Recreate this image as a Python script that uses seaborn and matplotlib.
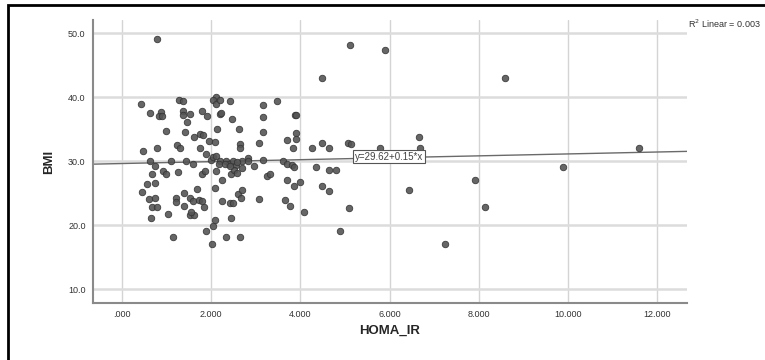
import numpy as np
import pandas as pd
import matplotlib
matplotlib.use("Agg")
import matplotlib.pyplot as plt
import seaborn as sns
from matplotlib.patches import Rectangle

# HOMA_IR / BMI 数据
homa_ir = [0.79, 5.11, 5.90, 4.48, 8.60, 0.43, 1.27, 1.37, 2.10, 2.05, 2.11, 2.20, 2.43, 3.48, 3.17,
           0.62, 0.88, 0.83, 0.89, 1.37, 1.37, 1.53, 1.79, 1.91, 2.20, 2.23, 1.45, 2.47, 3.16, 3.87,
           3.91, 0.98, 1.41, 2.13, 2.63, 3.17, 3.90, 1.61, 1.74, 1.81, 3.69, 3.90, 6.65, 0.46, 0.79,
           1.24, 1.29, 1.76, 1.95, 2.09, 1.89, 2.64, 2.64, 3.08, 3.84, 4.27, 4.48, 4.64, 5.07, 5.13,
           5.79, 6.69, 11.60, 0.63, 1.09, 1.43, 1.60, 1.99, 2.05, 2.11, 2.19, 2.33, 2.41, 2.49, 2.56,
           2.70, 2.82, 2.82, 2.95, 3.17, 3.61, 3.69, 3.81, 3.85, 4.35, 9.90, 0.74, 0.68, 0.92, 0.99,
           1.26, 1.79, 1.87, 2.10, 2.45, 2.52, 2.59, 2.70, 3.26, 3.31, 4.64, 4.81, 2.24, 0.73, 0.56,
           0.44, 1.68, 2.09, 2.61, 2.68, 3.69, 3.85, 3.99, 4.48, 4.64, 6.43, 7.91, 0.61, 0.73, 1.20,
           1.20, 1.40, 1.53, 1.59, 1.73, 1.79, 1.85, 1.38, 0.67, 0.79, 2.24, 2.43, 2.49, 2.66, 3.07,
           3.65, 3.77, 4.09, 5.09, 8.13, 0.64, 1.04, 1.53, 1.62, 1.55, 2.09, 2.45, 2.03, 1.89, 4.89,
           1.15, 2.33, 2.64, 2.02, 7.25, 2.17, 2.30, 2.43, 2.58]
bmi = [49.1, 48.2, 47.3, 43.0, 43.0, 39.0, 39.6, 39.4, 40.0, 39.5, 39.0, 39.6, 39.4, 39.4, 38.75,
       37.55, 37.6, 37.0, 37.1, 37.9, 37.2, 37.3, 37.8, 37.1, 37.3, 37.5, 36.1, 36.6, 36.9, 37.2,
       37.2, 34.7, 34.6, 35.0, 35.0, 34.6, 34.4, 33.7, 34.2, 34.1, 33.3, 33.4, 33.75, 31.6, 32.0,
       32.5, 32.1, 32.0, 33.1, 33.0, 31.1, 32.7, 32.1, 32.9, 32.0, 32.0, 32.8, 32.0, 32.8, 32.6,
       32.0, 32.0, 32.0, 30.05, 30.0, 30.0, 29.6, 30.2, 30.6, 30.8, 30.05, 30.0, 29.6, 29.95, 29.4,
       30.0, 30.5, 29.95, 29.3, 30.2, 30.05, 29.5, 29.4, 29.1, 29.0, 29.1, 29.2, 28.0, 28.4, 28.0,
       28.3, 28.0, 28.4, 28.4, 28.0, 28.65, 28.2, 28.85, 27.6, 28.0, 28.6, 28.65, 27.1, 26.6, 26.35,
       25.1, 25.7, 25.8, 24.9, 25.5, 27.0, 26.15, 26.7, 26.15, 25.3, 25.5, 27.0, 24.1, 24.3, 24.2,
       23.6, 25.05, 24.2, 23.75, 23.85, 23.7, 22.9, 23.0, 22.9, 22.9, 23.7, 23.4, 23.5, 24.2, 24.0,
       23.9, 23.0, 22.1, 22.6, 22.8, 21.05, 21.7, 21.6, 21.6, 22.0, 20.8, 21.05, 19.85, 19.1, 19.1,
       18.1, 18.1, 18.1, 17.1, 17.0, 29.5, 29.6, 29.2, 29.8]

# 回归方程 y = 29.62 + 0.15*x
intercept = 29.62
slope = 0.15
r2_text = "R$^2$ Linear = 0.003"
eq_text = "y=29.62+0.15*x"

x_ticks = [0, 2, 4, 6, 8, 10, 12]
y_ticks = [10, 20, 30, 40, 50]

df = pd.DataFrame({'HOMA_IR': homa_ir, 'BMI': bmi})

sns.set_style("white")
plt.rcParams['font.family'] = ['Liberation Sans', 'DejaVu Sans']

fig = plt.figure(figsize=(7.65, 3.6), dpi=100)
ax = fig.add_axes([0.121, 0.158, 0.777, 0.786])

# 网格
for xv in x_ticks:
    ax.axvline(xv, color='#d4d4d4', lw=1.0, zorder=0)
for yv in y_ticks:
    ax.axhline(yv, color='#dcdcdc', lw=1.8, zorder=0)

sns.scatterplot(data=df, x='HOMA_IR', y='BMI', ax=ax, s=22, color='#555555',
                edgecolor='#333333', linewidth=0.6, alpha=0.9, zorder=3)

# 拟合线
ax.axline((0, intercept), slope=slope, color='#6a6a6a', lw=1.0, zorder=2)
ax.text(5.98, intercept + slope * 5.98 + 0.2, eq_text, ha='center', va='center',
        fontsize=7, color='#444444', zorder=4,
        bbox=dict(boxstyle='square,pad=0.2', fc='white', ec='#555555', lw=0.8))

ax.set_xlim(-0.66, 12.67)
ax.set_ylim(7.8, 52.03)
ax.set_xticks(x_ticks)
ax.set_xticklabels([f"{v:.3f}".lstrip('0') if v == 0 else f"{v:.3f}" for v in x_ticks])
ax.set_yticks(y_ticks)
ax.set_yticklabels([f"{v:.1f}" for v in y_ticks])
ax.tick_params(length=0, labelsize=6.5, labelcolor='#333333', pad=5)

for side in ['top', 'right']:
    ax.spines[side].set_visible(False)
for side in ['left', 'bottom']:
    ax.spines[side].set_color('#8a8a8a')
    ax.spines[side].set_linewidth(1.5)

ax.set_xlabel('HOMA_IR', fontsize=9.5, fontweight='bold', labelpad=4)
ax.set_ylabel('BMI', fontsize=9.5, fontweight='bold', labelpad=9)

fig.text(688 / 765, 1 - 24 / 360, r2_text, fontsize=6.5, color='#333333', ha='left', va='center')

# 外框
fig.patches.append(Rectangle((8 / 765, -0.1), 1.2, 1.1 - 5 / 360, transform=fig.transFigure,
                             fill=False, ec='black', lw=2, zorder=10))

fig.savefig('out.png', dpi=100)
